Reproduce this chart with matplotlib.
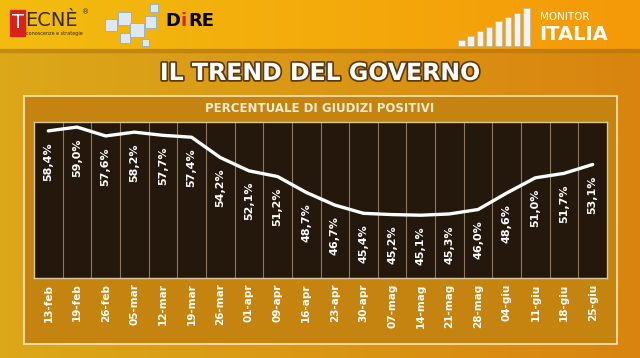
import numpy as np
import matplotlib
matplotlib.use('Agg')
import matplotlib.pyplot as plt
import matplotlib.patheffects as pe
from matplotlib.patches import Rectangle

# Data
dates = ['13-feb', '19-feb', '26-feb', '05-mar', '12-mar', '19-mar', '26-mar',
         '01-apr', '09-apr', '16-apr', '23-apr', '30-apr', '07-mag', '14-mag',
         '21-mag', '28-mag', '04-giu', '11-giu', '18-giu', '25-giu']
positivi = [58.4, 59.0, 57.6, 58.2, 57.7, 57.4, 54.2, 52.1, 51.2, 48.7,
            46.7, 45.4, 45.2, 45.1, 45.3, 46.0, 48.6, 51.0, 51.7, 53.1]

W, H = 640, 358
fig = plt.figure(figsize=(W / 100, H / 100), dpi=100)

def fx(px):
    return px / W

def fy(py):
    return 1 - py / H

# Background gradient
bg = fig.add_axes([0, 0, 1, 1])
bg.set_axis_off()
t = np.linspace(0, 1, 256)
c_left = np.array([0.86, 0.66, 0.10])
c_right = np.array([0.85, 0.52, 0.06])
grad = c_left[None, :] * (1 - t[:, None]) + c_right[None, :] * t[:, None]
bg.imshow(grad[None, :, :], aspect='auto', extent=[0, 1, 0, 1])
# header band
hl = np.array([0.95, 0.74, 0.06])
hr = np.array([0.96, 0.60, 0.03])
hgrad = hl[None, :] * (1 - t[:, None]) + hr[None, :] * t[:, None]
bg.imshow(hgrad[None, :, :], aspect='auto', extent=[0, 1, fy(49), 1])
bg.add_patch(Rectangle((0, fy(52)), 1, fy(49) - fy(52), color='#b07008', alpha=0.45))
bg.set_xlim(0, 1)
bg.set_ylim(0, 1)

# Panel
bg.add_patch(Rectangle((fx(24), fy(344)), fx(617 - 24), fy(96) - fy(344),
                       facecolor='#c5840f', edgecolor='#f5e6b8', lw=1.2))

# Logos (approximate)
bg.add_patch(Rectangle((fx(10), fy(36)), fx(15), fy(10) - fy(36), color='#d8231c'))
fig.text(fx(17.5), fy(23), 'T', color='white', fontsize=14, ha='center', va='center')
fig.text(fx(25), fy(21), 'ECNÈ', color='#3a2a10', fontsize=14, ha='left', va='center')
fig.text(fx(82), fy(12), '®', color='#3a2a10', fontsize=5, ha='left', va='center')
fig.text(fx(26), fy(34), 'conoscenze e strategie', color='#3a2a10', fontsize=3.5,
         ha='left', va='center')
for (cx, cy, s) in [(105, 25, 12), (118, 18, 13), (130, 30, 14), (145, 22, 11),
                    (120, 38, 10), (150, 8, 8), (142, 42, 7)]:
    bg.add_patch(Rectangle((fx(cx), fy(cy + s / 2)), fx(s), fy(0) - fy(s),
                           facecolor='#dfe8f2', edgecolor='#8aaed0', lw=0.6))
fig.text(fx(165), fy(21), 'D', color='black', fontsize=13, fontweight='bold',
         ha='left', va='center')
fig.text(fx(181), fy(21), 'i', color='#d8231c', fontsize=13, fontweight='bold',
         ha='left', va='center')
fig.text(fx(188), fy(21), 'RE', color='black', fontsize=13, fontweight='bold',
         ha='left', va='center')

bar_x = np.arange(8) * 9.3 + 458
bar_h = [6, 10, 15, 19, 25, 29, 33, 38]
for bx, bh in zip(bar_x, bar_h):
    bg.add_patch(Rectangle((fx(bx), fy(46)), fx(6.5), fy(46 - bh) - fy(46),
                           facecolor='#f4f4f4', edgecolor='#b0b0b0', lw=0.4))
fig.text(fx(540), fy(17), 'MONITOR', color='white', fontsize=7.5, ha='left', va='center')
fig.text(fx(539), fy(34), 'ITALIA', color='white', fontsize=14, fontweight='bold',
         ha='left', va='center')

# Titles
fig.text(0.5, fy(73), 'IL TREND DEL GOVERNO', color='white', fontsize=17,
         fontweight='bold', ha='center', va='center',
         path_effects=[pe.withStroke(linewidth=2.5, foreground='#5a3a10')])
fig.text(0.5, fy(109), 'PERCENTUALE DI GIUDIZI POSITIVI', color='#f6ecd2',
         fontsize=8.5, fontweight='bold', ha='center', va='center')

# Chart
ax = fig.add_axes([fx(34), fy(278), fx(607 - 34), fy(122) - fy(278)])
ax.set_facecolor('#24170b')
x = np.arange(len(dates))
ax.set_xlim(-0.5, len(dates) - 0.5)
ax.set_ylim(35.2, 59.8)
for xi in x[:-1]:
    ax.axvline(xi + 0.5, color='#8a7862', lw=0.8)
ax.plot(x, positivi, color='white', lw=2.4, solid_joinstyle='round',
        solid_capstyle='round')
for xi, v in zip(x, positivi):
    ax.annotate(f'{v:.1f}%'.replace('.', ','), (xi, v), xytext=(0, -8),
                textcoords='offset points', rotation=90, ha='center', va='top',
                color='white', fontsize=8, fontweight='bold')
ax.set_yticks([])
ax.set_xticks(x)
ax.set_xticklabels(dates, rotation=90, color='white', fontsize=7.5, fontweight='bold')
ax.tick_params(axis='x', length=0, pad=4)
for s in ax.spines.values():
    s.set_color('#d8c8a0')
    s.set_linewidth(1)

fig.savefig('out.png', dpi=100)
